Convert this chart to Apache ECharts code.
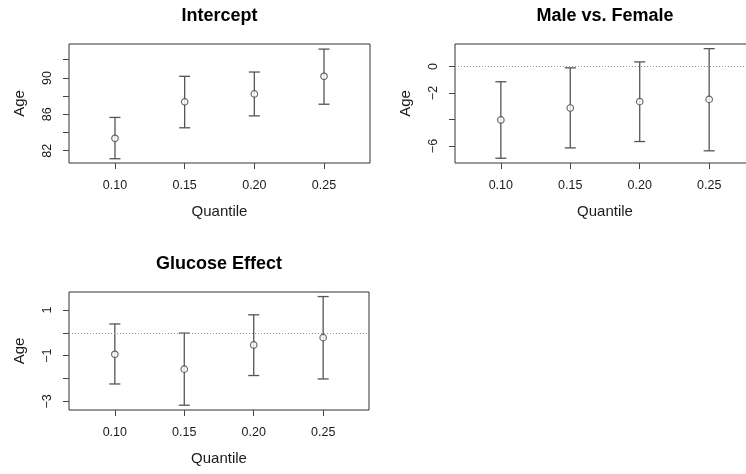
<!DOCTYPE html>
<html>
<head>
    <meta charset="utf-8">
    <title>Quantile effects</title>
    <script src="https://cdn.jsdelivr.net/npm/echarts@6/dist/echarts.min.js"></script>
    <style type="text/css">
        html, body { margin: 0; padding: 0; background: #fff; overflow: hidden; }
        /* 右侧面板在原图中被裁掉了一截，画布故意比窗口宽 */
        #main { width: 770px; height: 474px; }
    </style>
</head>
<body>
    <div id="main"></div>
    <script>
        // 分位数
        var quantiles = [0.10, 0.15, 0.20, 0.25];
        var xTicks = [0.10, 0.15, 0.20, 0.25];

        // Intercept
        var interceptEst = [83.36, 87.37, 88.24, 90.18];
        var interceptLow = [81.12, 84.52, 85.83, 87.11];
        var interceptHigh = [85.66, 90.18, 90.65, 93.17];
        var interceptTicks = [82, 84, 86, 88, 90, 92];
        var interceptLabels = [82, 86, 90];

        // Male vs. Female
        var sexEst = [-4.03, -3.13, -2.65, -2.48];
        var sexLow = [-6.92, -6.14, -5.66, -6.36];
        var sexHigh = [-1.15, -0.10, 0.35, 1.35];
        var sexTicks = [-6, -4, -2, 0];
        var sexLabels = [-6, -2, 0];

        // Glucose Effect
        var glucoseEst = [-0.94, -1.59, -0.53, -0.21];
        var glucoseLow = [-2.24, -3.17, -1.87, -2.02];
        var glucoseHigh = [0.39, -0.01, 0.79, 1.59];
        var glucoseTicks = [-3, -2, -1, 0, 1];
        var glucoseLabels = [-3, -1, 1];

        var font = 'Liberation Sans, Arial, Helvetica, sans-serif';

        var panels = [
            { title: 'Intercept', est: interceptEst, low: interceptLow, high: interceptHigh,
              ticks: interceptTicks, labels: interceptLabels, min: 80.65, max: 93.73, zero: false,
              left: 69, top: 44, width: 301, height: 119 },
            { title: 'Male vs. Female', est: sexEst, low: sexLow, high: sexHigh,
              ticks: sexTicks, labels: sexLabels, min: -7.28, max: 1.70, zero: true,
              left: 455, top: 44, width: 300, height: 119 },
            { title: 'Glucose Effect', est: glucoseEst, low: glucoseLow, high: glucoseHigh,
              ticks: glucoseTicks, labels: glucoseLabels, min: -3.38, max: 1.79, zero: true,
              left: 69, top: 292, width: 300, height: 118 }
        ];

        var option = { animation: false, backgroundColor: '#fff', title: [], grid: [], xAxis: [], yAxis: [], series: [] };

        panels.forEach(function (p, i) {
            option.title.push({
                text: p.title,
                left: p.left + p.width / 2,
                top: p.top - 37,
                textAlign: 'center',
                padding: 0,
                textStyle: { fontFamily: font, fontSize: 18, fontWeight: 'bold', color: '#000' }
            });
            option.grid.push({
                left: p.left, top: p.top, width: p.width, height: p.height,
                show: true, borderColor: '#333', borderWidth: 1, backgroundColor: 'transparent'
            });
            option.xAxis.push({
                type: 'value', gridIndex: i, min: 0.067, max: 0.283,
                name: 'Quantile', nameLocation: 'middle', nameGap: 41,
                nameTextStyle: { fontFamily: font, fontSize: 15, color: '#1a1a1a' },
                axisLine: { show: false, onZero: false },
                splitLine: { show: false },
                axisTick: { show: true, length: 6, customValues: xTicks, lineStyle: { color: '#444' } },
                axisLabel: {
                    customValues: xTicks, margin: 16, fontFamily: font, fontSize: 12.5, color: '#1a1a1a',
                    formatter: function (v) { return v.toFixed(2); }
                }
            });
            option.yAxis.push({
                type: 'value', gridIndex: i, min: p.min, max: p.max,
                name: 'Age', nameLocation: 'middle', nameGap: 42,
                nameTextStyle: { fontFamily: font, fontSize: 15, color: '#1a1a1a' },
                axisLine: { show: false, onZero: false },
                splitLine: { show: false },
                axisTick: { show: true, length: 6, customValues: p.ticks, lineStyle: { color: '#444' } },
                axisLabel: {
                    customValues: p.labels, rotate: 90, margin: 15,
                    fontFamily: font, fontSize: 12.5, color: '#1a1a1a',
                    formatter: function (v) { return String(v).replace('-', '\u2212'); }
                }
            });

            var bars = quantiles.map(function (q, k) { return [q, p.low[k], p.high[k]]; });
            option.series.push({
                type: 'custom', xAxisIndex: i, yAxisIndex: i, data: bars,
                renderItem: function (params, api) {
                    var lo = api.coord([api.value(0), api.value(1)]);
                    var hi = api.coord([api.value(0), api.value(2)]);
                    var cap = 5.5;
                    var style = { stroke: '#555', lineWidth: 1.3 };
                    return {
                        type: 'group',
                        children: [
                            { type: 'line', shape: { x1: lo[0], y1: lo[1], x2: hi[0], y2: hi[1] }, style: style },
                            { type: 'line', shape: { x1: lo[0] - cap, y1: lo[1], x2: lo[0] + cap, y2: lo[1] }, style: style },
                            { type: 'line', shape: { x1: hi[0] - cap, y1: hi[1], x2: hi[0] + cap, y2: hi[1] }, style: style }
                        ]
                    };
                },
                z: 2
            });

            var pts = quantiles.map(function (q, k) { return [q, p.est[k]]; });
            var sc = {
                type: 'scatter', xAxisIndex: i, yAxisIndex: i, data: pts,
                symbol: 'circle', symbolSize: 6.5,
                itemStyle: { color: '#fff', borderColor: '#444', borderWidth: 1.2 },
                z: 3
            };
            if (p.zero) {
                sc.markLine = {
                    silent: true, symbol: 'none', label: { show: false },
                    lineStyle: { type: [1, 2], color: '#999', width: 1 },
                    data: [{ yAxis: 0 }]
                };
            }
            option.series.push(sc);
        });

        var chart = echarts.init(document.getElementById('main'));
        chart.setOption(option);
    </script>
</body>
</html>
